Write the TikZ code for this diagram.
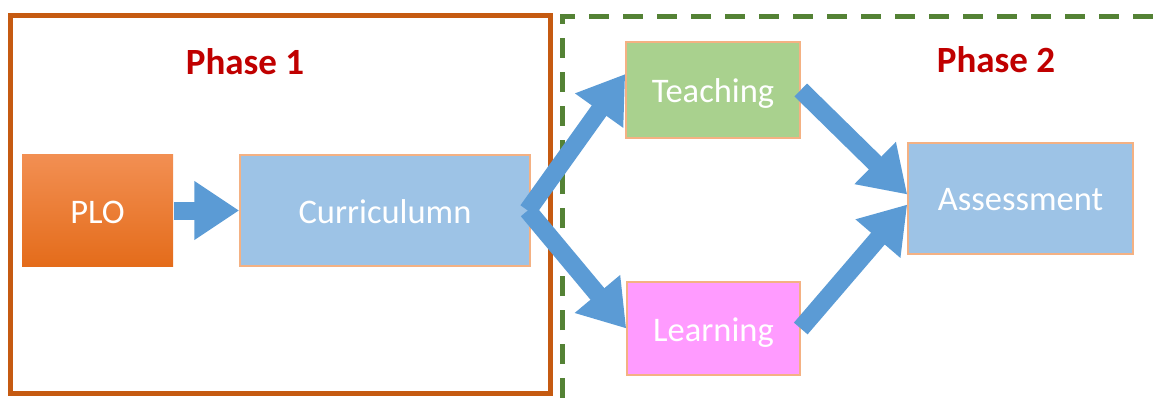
\documentclass[tikz,border=0pt]{standalone}
\usepackage{fontspec}
\setmainfont{Carlito}
\usetikzlibrary{arrows.meta}
\definecolor{phaseorange}{HTML}{C55A11}
\definecolor{phasegreen}{HTML}{548235}
\definecolor{phasered}{HTML}{C00000}
\definecolor{boxblue}{HTML}{9DC3E6}
\definecolor{boxgreen}{HTML}{A9D18E}
\definecolor{boxpink}{HTML}{FF9BFF}
\definecolor{boxedge}{HTML}{F4B183}
\definecolor{arrowblue}{HTML}{5B9BD5}
\definecolor{ploTop}{HTML}{F28F52}
\definecolor{ploBot}{HTML}{E46C1B}
\tikzset{
  box/.style={draw=boxedge, line width=1.5pt, inner sep=0pt, text=white,
    text height=28pt, text depth=3pt,
    font=\fontsize{34.5}{36}\selectfont},
  phaselabel/.style={text=phasered, font=\bfseries\fontsize{37}{38}\selectfont},
  bigarrow/.style={draw=arrowblue, line width=18pt,
    -{Triangle[width=56pt,length=45pt]}},
}
\begin{document}
\begin{tikzpicture}[x=1pt,y=-1pt]
\useasboundingbox (0,0) rectangle (1166,398);
% frames
\draw[phaseorange, line width=5pt] (10.5,15.5) rectangle (550,393.5);
\draw[phasegreen, line width=5pt, dash pattern=on 20pt off 14pt]
  (562,398) -- (562,17) -- (1170,17);
% labels
\node[phaselabel] (p1) at (245,62) {Phase 1};
\node[phaselabel] (p2) at (996,60) {Phase 2};
% boxes
\node[box, draw=none, top color=ploTop, bottom color=ploBot,
  minimum width=151pt, minimum height=111pt] (plo) at (97.5,210.5) {PLO};
\node[box, fill=boxblue, minimum width=290pt, minimum height=111pt]
  (cur) at (385,210.5) {Curriculumn};
\node[box, fill=boxgreen, minimum width=174pt, minimum height=96pt]
  (teach) at (713,90) {Teaching};
\node[box, fill=boxpink, minimum width=173pt, minimum height=93pt]
  (learn) at (713.5,328.5) {Learning};
\node[box, fill=boxblue, minimum width=225pt, minimum height=111pt]
  (assess) at (1020.5,198.5) {Assessment};
% arrows
\draw[bigarrow] (plo.east) -- (cur.west);
\draw[bigarrow] ([xshift=-3pt]cur.east) -- ([yshift=16pt]teach.west);
\draw[bigarrow] ([xshift=-3pt]cur.east) -- (learn.west);
\draw[bigarrow] (teach.east) -- ([yshift=4pt]assess.west);
\draw[bigarrow] (learn.east) -- ([yshift=-6pt]assess.west);
\end{tikzpicture}
\end{document}
